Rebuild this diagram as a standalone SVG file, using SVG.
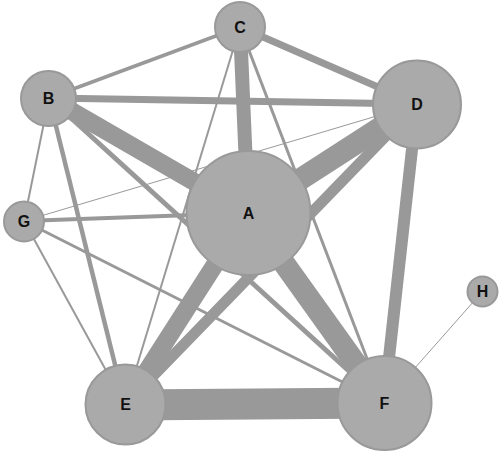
<svg xmlns="http://www.w3.org/2000/svg" width="500" height="451" viewBox="0 0 500 451">
<style>
.e{stroke:#999999;stroke-linecap:butt;fill:none}
.n{fill:#aaaaaa;stroke:#999999;stroke-width:2}
.t{font-family:"Liberation Sans",Arial,sans-serif;font-size:16px;font-weight:bold;fill:#111;text-anchor:middle;dominant-baseline:central}
</style>
<rect width="500" height="451" fill="#ffffff"/>
<g id="edges">
<line class="e" x1="248" y1="213" x2="49" y2="98" stroke-width="18"/>
<line class="e" x1="248" y1="213" x2="240" y2="27" stroke-width="14"/>
<line class="e" x1="248" y1="213" x2="417" y2="104" stroke-width="22"/>
<line class="e" x1="248" y1="213" x2="125" y2="405" stroke-width="18"/>
<line class="e" x1="248" y1="213" x2="384" y2="403" stroke-width="22"/>
<line class="e" x1="125" y1="405" x2="384" y2="403" stroke-width="31"/>
<line class="e" x1="417" y1="104" x2="384" y2="403" stroke-width="12"/>
<line class="e" x1="417" y1="104" x2="125" y2="405" stroke-width="11"/>
<line class="e" x1="49" y1="98" x2="417" y2="104" stroke-width="7"/>
<line class="e" x1="240" y1="27" x2="417" y2="104" stroke-width="7"/>
<line class="e" x1="49" y1="98" x2="240" y2="27" stroke-width="3.5"/>
<line class="e" x1="49" y1="98" x2="384" y2="403" stroke-width="5"/>
<line class="e" x1="49" y1="98" x2="125" y2="405" stroke-width="4.5"/>
<line class="e" x1="49" y1="98" x2="24" y2="221" stroke-width="2"/>
<line class="e" x1="24" y1="221" x2="248" y2="213" stroke-width="4"/>
<line class="e" x1="24" y1="221" x2="384" y2="403" stroke-width="3"/>
<line class="e" x1="24" y1="221" x2="125" y2="405" stroke-width="2"/>
<line class="e" x1="24" y1="221" x2="417" y2="104" stroke-width="1"/>
<line class="e" x1="240" y1="27" x2="125" y2="405" stroke-width="2"/>
<line class="e" x1="240" y1="27" x2="384" y2="403" stroke-width="3"/>
<line class="e" x1="384" y1="403" x2="482" y2="292" stroke-width="1"/>
</g>
<g id="A"><circle class="n" cx="248.5" cy="213" r="62"/><text class="t" x="248.5" y="213">A</text></g>
<g id="B"><circle class="n" cx="48.5" cy="98.5" r="27.5"/><text class="t" x="48.5" y="98.5">B</text></g>
<g id="C"><circle class="n" cx="240" cy="27" r="25"/><text class="t" x="240" y="27">C</text></g>
<g id="D"><circle class="n" cx="417" cy="104.5" r="44"/><text class="t" x="417" y="104.5">D</text></g>
<g id="E"><circle class="n" cx="125.5" cy="404.5" r="40"/><text class="t" x="125.5" y="404.5">E</text></g>
<g id="F"><circle class="n" cx="384.5" cy="403" r="47"/><text class="t" x="384.5" y="403">F</text></g>
<g id="G"><circle class="n" cx="24" cy="221.5" r="20"/><text class="t" x="24" y="221.5">G</text></g>
<g id="H"><circle class="n" cx="482.5" cy="291.5" r="15"/><text class="t" x="482.5" y="291.5">H</text></g>
</svg>
